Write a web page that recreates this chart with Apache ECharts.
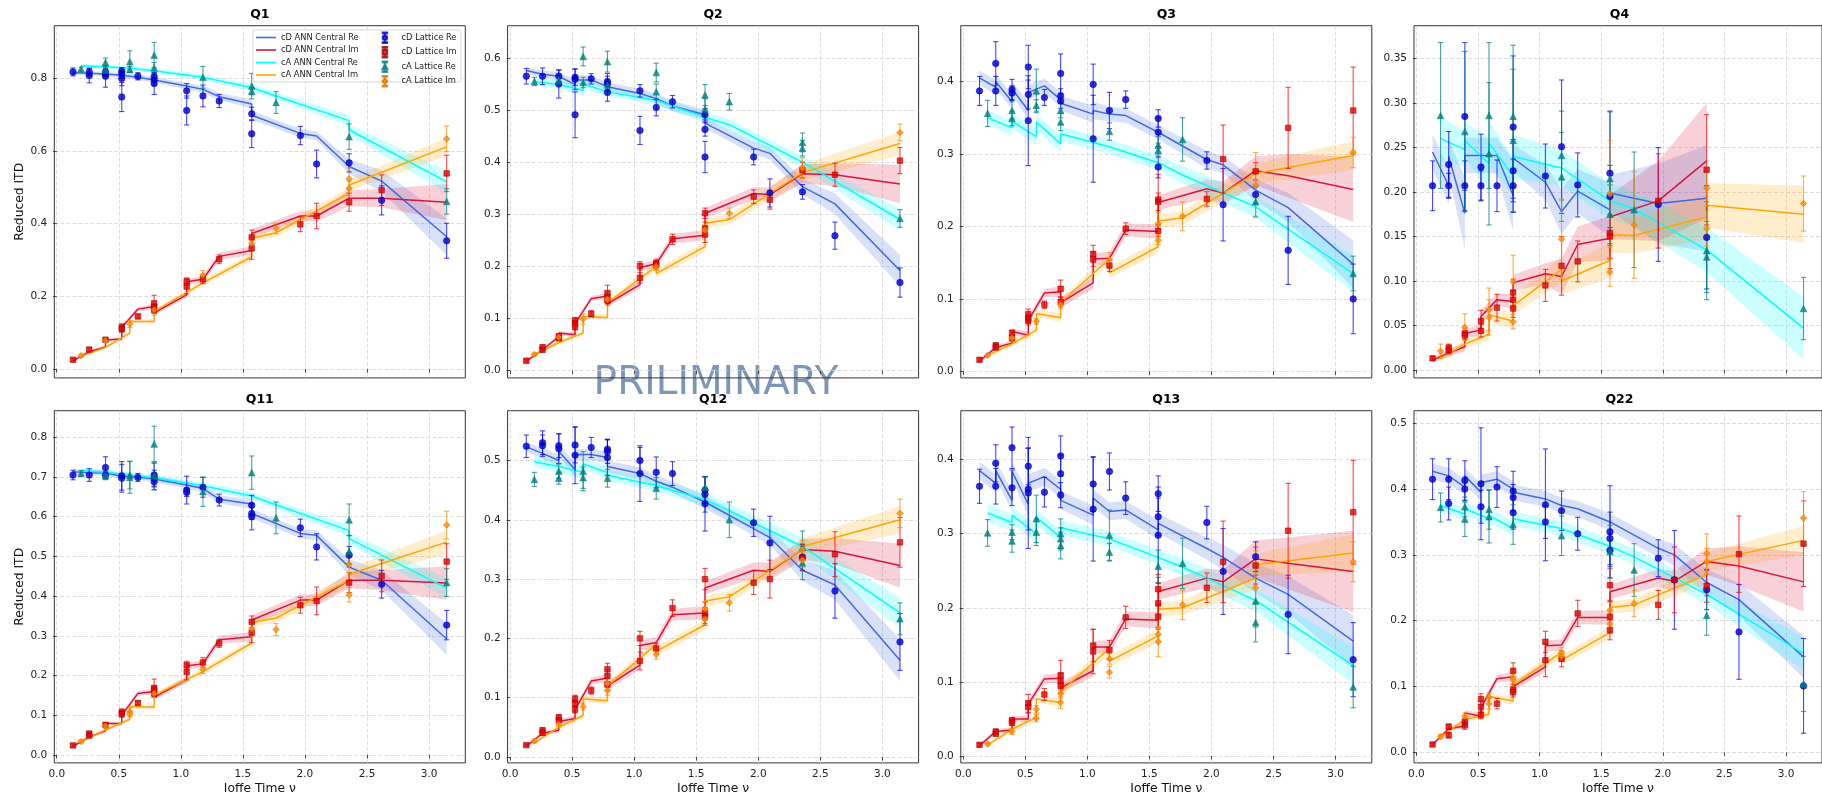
<!DOCTYPE html>
<html>
<head>
<meta charset="utf-8">
<title>Reduced ITD vs Ioffe time</title>
<script src="https://cdn.jsdelivr.net/npm/echarts@6/dist/echarts.min.js"></script>
<style>
  html, body { margin: 0; padding: 0; background: #ffffff; }
  #chart { width: 1822px; height: 796px; }
</style>
</head>
<body>
<div id="chart"></div>
<script>
// ---------------------------------------------------------------------------
// Data. Lattice arrays: [nu, value, error]. ANN arrays: [nu, central, band half-width].
// ---------------------------------------------------------------------------
const panelNames = ['Q1', 'Q2', 'Q3', 'Q4', 'Q11', 'Q12', 'Q13', 'Q22'];
const xRange = [-0.0196, 3.292];
const xTickValues = [0, 0.5, 1.0, 1.5, 2.0, 2.5, 3.0];
const yRanges = [[-0.024, 0.944], [-0.014, 0.662], [-0.009, 0.477], [-0.009, 0.387],
                 [-0.020, 0.867], [-0.010, 0.584], [-0.0094, 0.466], [-0.016, 0.519]];
const yTickValues = [
  [0, 0.2, 0.4, 0.6, 0.8],
  [0, 0.1, 0.2, 0.3, 0.4, 0.5, 0.6],
  [0, 0.1, 0.2, 0.3, 0.4],
  [0, 0.05, 0.10, 0.15, 0.20, 0.25, 0.30, 0.35],
  [0, 0.1, 0.2, 0.3, 0.4, 0.5, 0.6, 0.7, 0.8],
  [0, 0.1, 0.2, 0.3, 0.4, 0.5],
  [0, 0.1, 0.2, 0.3, 0.4],
  [0, 0.1, 0.2, 0.3, 0.4, 0.5]
];
const yTickDecimals = [1, 1, 1, 2, 1, 1, 1, 1];

// ----- Q1 -----
const Q1_cD_ann_Re = [[0.131,0.815,0.006],[0.262,0.813,0.006],[0.393,0.811,0.006],[0.524,0.808,0.007],[0.654,0.802,0.007],[0.785,0.795,0.008],[1.047,0.778,0.009],[1.178,0.769,0.01],[1.309,0.749,0.01],[1.571,0.729,0.012],[1.571,0.698,0.012],[1.963,0.648,0.012],[2.094,0.641,0.012],[2.356,0.557,0.02],[2.618,0.517,0.03],[3.142,0.364,0.05]];
const Q1_cD_ann_Im = [[0.131,0.023,0.003],[0.262,0.048,0.004],[0.393,0.061,0.004],[0.393,0.08,0.004],[0.524,0.083,0.005],[0.524,0.115,0.005],[0.654,0.165,0.006],[0.785,0.172,0.007],[0.785,0.155,0.007],[1.047,0.204,0.008],[1.047,0.24,0.008],[1.178,0.247,0.01],[1.309,0.31,0.01],[1.571,0.326,0.012],[1.571,0.373,0.012],[1.963,0.421,0.014],[2.094,0.421,0.016],[2.356,0.47,0.022],[2.618,0.47,0.025],[3.142,0.459,0.05]];
const Q1_cA_ann_Re = [[0.196,0.834,0.005],[0.393,0.831,0.006],[0.589,0.827,0.006],[0.785,0.82,0.007],[1.178,0.802,0.008],[1.571,0.774,0.01],[1.767,0.751,0.01],[2.356,0.683,0.015],[2.356,0.658,0.015],[3.142,0.515,0.03]];
const Q1_cA_ann_Im = [[0.196,0.035,0.003],[0.393,0.06,0.004],[0.589,0.099,0.005],[0.589,0.131,0.005],[0.785,0.131,0.006],[0.785,0.158,0.006],[1.178,0.237,0.008],[1.571,0.309,0.01],[1.571,0.36,0.01],[1.767,0.375,0.012],[2.356,0.483,0.015],[2.356,0.506,0.015],[3.142,0.611,0.025]];
const Q1_cD_lat_Re = [[0.131,0.817,0.011],[0.262,0.817,0.01],[0.262,0.807,0.02],[0.393,0.817,0.01],[0.393,0.811,0.012],[0.393,0.805,0.03],[0.524,0.819,0.01],[0.524,0.811,0.012],[0.524,0.799,0.02],[0.524,0.748,0.04],[0.654,0.805,0.01],[0.785,0.804,0.012],[0.785,0.795,0.015],[0.785,0.785,0.03],[1.047,0.765,0.02],[1.047,0.711,0.04],[1.178,0.751,0.03],[1.309,0.737,0.018],[1.571,0.702,0.018],[1.571,0.647,0.038],[1.963,0.642,0.025],[2.094,0.564,0.038],[2.356,0.567,0.025],[2.618,0.464,0.04],[3.142,0.353,0.048]];
const Q1_cD_lat_Im = [[0.131,0.026,0.004],[0.262,0.054,0.005],[0.393,0.081,0.005],[0.524,0.115,0.01],[0.524,0.11,0.008],[0.654,0.145,0.006],[0.785,0.181,0.022],[0.785,0.17,0.01],[0.785,0.163,0.01],[1.047,0.241,0.01],[1.047,0.227,0.02],[1.178,0.247,0.012],[1.309,0.302,0.012],[1.571,0.362,0.02],[1.571,0.332,0.03],[1.963,0.398,0.02],[2.094,0.421,0.035],[2.356,0.459,0.025],[2.618,0.492,0.042],[3.142,0.538,0.05]];
const Q1_cA_lat_Re = [[0.196,0.825,0.005],[0.393,0.843,0.012],[0.393,0.822,0.01],[0.589,0.845,0.03],[0.589,0.824,0.008],[0.785,0.863,0.035],[0.785,0.828,0.015],[1.178,0.802,0.03],[1.571,0.778,0.035],[1.571,0.764,0.01],[1.767,0.733,0.03],[2.356,0.639,0.035],[3.142,0.461,0.035]];
const Q1_cA_lat_Im = [[0.196,0.037,0.004],[0.393,0.078,0.005],[0.589,0.124,0.01],[0.785,0.163,0.015],[1.178,0.259,0.012],[1.571,0.346,0.02],[1.767,0.387,0.015],[2.356,0.523,0.03],[2.356,0.497,0.02],[3.142,0.633,0.035]];

// ----- Q2 -----
const Q2_cD_ann_Re = [[0.131,0.576,0.006],[0.262,0.569,0.007],[0.393,0.565,0.008],[0.524,0.549,0.01],[0.524,0.558,0.01],[0.654,0.558,0.008],[0.785,0.545,0.008],[1.047,0.532,0.009],[1.178,0.522,0.01],[1.309,0.508,0.01],[1.571,0.491,0.01],[1.571,0.475,0.01],[1.963,0.427,0.012],[2.094,0.417,0.012],[2.356,0.353,0.015],[2.618,0.32,0.02],[3.142,0.192,0.03]];
const Q2_cD_ann_Im = [[0.131,0.018,0.003],[0.262,0.04,0.003],[0.393,0.065,0.004],[0.393,0.072,0.004],[0.524,0.069,0.005],[0.524,0.09,0.005],[0.654,0.138,0.005],[0.785,0.143,0.006],[0.785,0.128,0.006],[1.047,0.165,0.007],[1.047,0.198,0.007],[1.178,0.205,0.008],[1.309,0.253,0.009],[1.571,0.26,0.01],[1.571,0.302,0.01],[1.963,0.34,0.012],[2.094,0.338,0.014],[2.356,0.378,0.018],[2.618,0.376,0.022],[3.142,0.358,0.037]];
const Q2_cA_ann_Re = [[0.196,0.555,0.008],[0.393,0.549,0.009],[0.589,0.538,0.01],[0.589,0.55,0.01],[0.785,0.535,0.008],[1.178,0.519,0.009],[1.571,0.486,0.01],[1.767,0.472,0.01],[2.356,0.4,0.012],[3.142,0.29,0.02]];
const Q2_cA_ann_Im = [[0.196,0.03,0.003],[0.393,0.054,0.004],[0.589,0.072,0.005],[0.589,0.104,0.005],[0.785,0.102,0.006],[0.785,0.13,0.006],[1.178,0.2,0.008],[1.178,0.186,0.008],[1.571,0.238,0.01],[1.571,0.283,0.01],[1.767,0.29,0.01],[2.356,0.38,0.015],[3.142,0.436,0.022]];
const Q2_cD_lat_Re = [[0.131,0.565,0.015],[0.262,0.565,0.016],[0.393,0.565,0.012],[0.393,0.55,0.027],[0.524,0.563,0.016],[0.524,0.559,0.02],[0.524,0.491,0.044],[0.654,0.56,0.01],[0.785,0.555,0.015],[0.785,0.55,0.015],[0.785,0.534,0.017],[1.047,0.537,0.012],[1.047,0.461,0.027],[1.178,0.505,0.016],[1.309,0.516,0.012],[1.571,0.491,0.012],[1.571,0.463,0.013],[1.571,0.41,0.03],[1.963,0.41,0.015],[2.094,0.341,0.027],[2.356,0.343,0.014],[2.618,0.259,0.026],[3.142,0.169,0.028]];
const Q2_cD_lat_Im = [[0.131,0.019,0.003],[0.262,0.045,0.004],[0.262,0.04,0.004],[0.393,0.066,0.004],[0.393,0.062,0.004],[0.524,0.096,0.006],[0.524,0.09,0.006],[0.524,0.084,0.006],[0.654,0.109,0.006],[0.785,0.149,0.015],[0.785,0.141,0.008],[0.785,0.134,0.008],[1.047,0.201,0.008],[1.047,0.178,0.01],[1.178,0.206,0.008],[1.178,0.203,0.008],[1.309,0.252,0.01],[1.571,0.302,0.01],[1.571,0.273,0.012],[1.571,0.261,0.015],[1.963,0.334,0.013],[2.094,0.328,0.018],[2.356,0.385,0.015],[2.618,0.376,0.022],[3.142,0.403,0.025]];
const Q2_cA_lat_Re = [[0.196,0.555,0.008],[0.393,0.558,0.01],[0.589,0.603,0.018],[0.589,0.553,0.01],[0.785,0.593,0.02],[0.785,0.548,0.01],[1.178,0.572,0.018],[1.178,0.535,0.015],[1.571,0.529,0.02],[1.571,0.502,0.02],[1.767,0.516,0.016],[2.356,0.438,0.018],[2.356,0.427,0.015],[3.142,0.292,0.017]];
const Q2_cA_lat_Im = [[0.196,0.031,0.003],[0.393,0.064,0.004],[0.589,0.099,0.01],[0.785,0.137,0.006],[1.178,0.2,0.008],[1.571,0.27,0.01],[1.767,0.302,0.01],[2.356,0.389,0.02],[3.142,0.457,0.016]];

// ----- Q3 -----
const Q3_cD_ann_Re = [[0.131,0.405,0.01],[0.262,0.392,0.01],[0.262,0.4,0.01],[0.393,0.372,0.01],[0.393,0.39,0.01],[0.524,0.36,0.012],[0.524,0.385,0.01],[0.654,0.394,0.01],[0.785,0.375,0.01],[0.785,0.37,0.01],[1.047,0.355,0.012],[1.047,0.36,0.012],[1.178,0.355,0.01],[1.309,0.353,0.01],[1.571,0.33,0.01],[1.963,0.292,0.012],[2.094,0.285,0.012],[2.356,0.25,0.015],[2.618,0.226,0.02],[3.142,0.148,0.033]];
const Q3_cD_ann_Im = [[0.131,0.014,0.003],[0.262,0.033,0.003],[0.393,0.039,0.004],[0.393,0.055,0.004],[0.524,0.05,0.005],[0.524,0.07,0.005],[0.654,0.108,0.006],[0.785,0.11,0.007],[0.785,0.095,0.007],[1.047,0.122,0.008],[1.047,0.155,0.008],[1.178,0.156,0.009],[1.309,0.195,0.009],[1.571,0.193,0.01],[1.571,0.233,0.01],[1.963,0.252,0.013],[2.094,0.246,0.016],[2.356,0.277,0.02],[2.618,0.27,0.03],[3.142,0.251,0.045]];
const Q3_cA_ann_Re = [[0.196,0.35,0.01],[0.393,0.336,0.01],[0.393,0.345,0.01],[0.589,0.324,0.012],[0.589,0.344,0.01],[0.785,0.314,0.012],[0.785,0.328,0.01],[1.178,0.31,0.01],[1.571,0.288,0.01],[1.767,0.271,0.012],[2.356,0.227,0.015],[3.142,0.135,0.025]];
const Q3_cA_ann_Im = [[0.196,0.022,0.003],[0.393,0.038,0.004],[0.589,0.057,0.005],[0.589,0.08,0.005],[0.785,0.074,0.006],[0.785,0.095,0.006],[1.178,0.155,0.008],[1.178,0.136,0.008],[1.571,0.172,0.009],[1.571,0.207,0.009],[1.767,0.212,0.01],[2.356,0.273,0.014],[3.142,0.298,0.02]];
const Q3_cD_lat_Re = [[0.131,0.387,0.02],[0.262,0.425,0.03],[0.262,0.387,0.02],[0.393,0.389,0.014],[0.393,0.384,0.01],[0.524,0.42,0.03],[0.524,0.382,0.02],[0.524,0.346,0.062],[0.654,0.378,0.011],[0.785,0.411,0.027],[0.785,0.38,0.01],[0.785,0.373,0.01],[1.047,0.396,0.028],[1.047,0.321,0.06],[1.178,0.36,0.025],[1.309,0.375,0.012],[1.571,0.349,0.012],[1.571,0.33,0.02],[1.571,0.282,0.015],[1.963,0.291,0.012],[2.094,0.23,0.05],[2.356,0.244,0.012],[2.618,0.167,0.047],[3.142,0.1,0.048]];
const Q3_cD_lat_Im = [[0.131,0.016,0.002],[0.262,0.036,0.003],[0.262,0.033,0.003],[0.393,0.053,0.004],[0.393,0.046,0.004],[0.524,0.079,0.007],[0.524,0.073,0.006],[0.524,0.07,0.006],[0.654,0.092,0.005],[0.785,0.114,0.012],[0.785,0.096,0.007],[1.047,0.162,0.012],[1.047,0.155,0.01],[1.178,0.146,0.008],[1.309,0.197,0.008],[1.571,0.237,0.035],[1.571,0.234,0.012],[1.571,0.194,0.008],[1.963,0.238,0.01],[2.094,0.293,0.047],[2.356,0.276,0.012],[2.618,0.336,0.056],[3.142,0.36,0.06]];
const Q3_cA_lat_Re = [[0.196,0.356,0.018],[0.393,0.36,0.012],[0.393,0.349,0.01],[0.589,0.387,0.03],[0.589,0.367,0.008],[0.785,0.36,0.01],[0.785,0.344,0.012],[1.178,0.331,0.012],[1.571,0.312,0.012],[1.571,0.305,0.01],[1.767,0.32,0.03],[2.356,0.234,0.02],[3.142,0.135,0.024]];
const Q3_cA_lat_Im = [[0.196,0.022,0.002],[0.393,0.046,0.004],[0.589,0.069,0.004],[0.785,0.092,0.006],[1.178,0.154,0.01],[1.571,0.204,0.015],[1.571,0.181,0.006],[1.767,0.214,0.02],[2.356,0.257,0.045],[3.142,0.302,0.021]];

// ----- Q4 -----
const Q4_cD_ann_Re = [[0.131,0.245,0.02],[0.262,0.207,0.02],[0.262,0.24,0.02],[0.393,0.176,0.04],[0.393,0.241,0.02],[0.524,0.241,0.02],[0.654,0.241,0.02],[0.785,0.196,0.04],[0.785,0.238,0.015],[1.047,0.211,0.02],[1.178,0.178,0.025],[1.309,0.201,0.025],[1.571,0.18,0.03],[1.571,0.199,0.02],[1.963,0.187,0.045],[2.356,0.193,0.06]];
const Q4_cD_ann_Im = [[0.131,0.011,0.003],[0.262,0.019,0.004],[0.393,0.026,0.005],[0.393,0.041,0.005],[0.524,0.045,0.006],[0.524,0.06,0.007],[0.654,0.079,0.007],[0.785,0.077,0.008],[0.785,0.098,0.009],[1.047,0.108,0.012],[1.178,0.105,0.02],[1.309,0.141,0.02],[1.571,0.148,0.025],[1.571,0.172,0.025],[1.963,0.19,0.045],[2.356,0.235,0.065]];
const Q4_cA_ann_Re = [[0.196,0.26,0.025],[0.393,0.248,0.02],[0.393,0.258,0.02],[0.589,0.232,0.03],[0.589,0.255,0.025],[0.785,0.218,0.02],[0.785,0.24,0.025],[1.178,0.227,0.02],[1.571,0.19,0.02],[1.767,0.181,0.02],[2.356,0.135,0.025],[3.142,0.047,0.035]];
const Q4_cA_ann_Im = [[0.196,0.013,0.003],[0.393,0.029,0.005],[0.589,0.04,0.007],[0.589,0.062,0.008],[0.785,0.055,0.009],[0.785,0.072,0.01],[1.178,0.113,0.015],[1.178,0.1,0.015],[1.571,0.123,0.02],[1.571,0.152,0.02],[1.767,0.151,0.02],[2.356,0.172,0.025],[2.356,0.185,0.025],[3.142,0.175,0.032]];
const Q4_cD_lat_Re = [[0.131,0.207,0.028],[0.262,0.231,0.037],[0.262,0.207,0.014],[0.393,0.285,0.083],[0.393,0.207,0.028],[0.524,0.228,0.037],[0.524,0.207,0.017],[0.654,0.207,0.029],[0.785,0.273,0.08],[0.785,0.224,0.035],[0.785,0.207,0.03],[1.047,0.218,0.036],[1.178,0.251,0.075],[1.309,0.208,0.036],[1.571,0.221,0.07],[1.571,0.195,0.035],[1.963,0.186,0.064],[2.356,0.149,0.058]];
const Q4_cD_lat_Im = [[0.131,0.013,0.002],[0.262,0.025,0.004],[0.262,0.022,0.004],[0.393,0.041,0.006],[0.393,0.039,0.005],[0.524,0.055,0.012],[0.524,0.044,0.007],[0.654,0.07,0.015],[0.785,0.087,0.015],[0.785,0.079,0.01],[0.785,0.069,0.01],[1.047,0.095,0.018],[1.178,0.117,0.033],[1.309,0.122,0.023],[1.571,0.154,0.04],[1.571,0.15,0.025],[1.963,0.19,0.053],[2.356,0.225,0.062]];
const Q4_cA_lat_Re = [[0.196,0.286,0.082],[0.393,0.268,0.09],[0.589,0.286,0.082],[0.589,0.243,0.08],[0.785,0.285,0.08],[0.785,0.258,0.08],[1.178,0.241,0.05],[1.178,0.217,0.05],[1.571,0.215,0.075],[1.571,0.175,0.033],[1.767,0.18,0.065],[2.356,0.134,0.055],[2.356,0.127,0.04],[3.142,0.069,0.035]];
const Q4_cA_lat_Im = [[0.196,0.021,0.008],[0.393,0.048,0.015],[0.589,0.068,0.024],[0.589,0.059,0.02],[0.785,0.099,0.03],[0.785,0.054,0.008],[1.178,0.147,0.045],[1.571,0.198,0.06],[1.571,0.11,0.016],[1.767,0.163,0.06],[2.356,0.204,0.02],[2.356,0.159,0.02],[3.142,0.187,0.031]];

// ----- Q11 -----
const Q11_cD_ann_Re = [[0.131,0.713,0.008],[0.262,0.711,0.007],[0.393,0.71,0.007],[0.524,0.702,0.007],[0.654,0.7,0.007],[0.785,0.695,0.008],[1.047,0.68,0.009],[1.178,0.671,0.01],[1.309,0.644,0.01],[1.571,0.632,0.012],[1.571,0.608,0.012],[1.963,0.558,0.012],[2.094,0.553,0.013],[2.356,0.473,0.02],[2.618,0.44,0.025],[3.142,0.292,0.04]];
const Q11_cD_ann_Im = [[0.131,0.022,0.003],[0.262,0.045,0.004],[0.393,0.061,0.004],[0.393,0.079,0.004],[0.524,0.079,0.005],[0.524,0.1,0.005],[0.654,0.155,0.006],[0.785,0.16,0.007],[0.785,0.145,0.007],[1.047,0.19,0.008],[1.047,0.224,0.008],[1.178,0.23,0.009],[1.309,0.29,0.01],[1.571,0.298,0.012],[1.571,0.34,0.012],[1.963,0.39,0.014],[2.094,0.39,0.015],[2.356,0.44,0.02],[2.618,0.44,0.025],[3.142,0.433,0.042]];
const Q11_cA_ann_Re = [[0.196,0.717,0.006],[0.393,0.712,0.007],[0.589,0.705,0.007],[0.785,0.698,0.008],[1.178,0.678,0.008],[1.571,0.652,0.01],[1.767,0.63,0.01],[2.356,0.565,0.015],[2.356,0.545,0.015],[3.142,0.42,0.025]];
const Q11_cA_ann_Im = [[0.196,0.033,0.003],[0.393,0.063,0.004],[0.589,0.09,0.005],[0.589,0.122,0.005],[0.785,0.12,0.006],[0.785,0.15,0.006],[1.178,0.21,0.008],[1.571,0.282,0.01],[1.571,0.333,0.01],[1.767,0.345,0.012],[2.356,0.44,0.015],[2.356,0.455,0.015],[3.142,0.536,0.03]];
const Q11_cD_lat_Re = [[0.131,0.705,0.012],[0.262,0.705,0.016],[0.393,0.724,0.027],[0.393,0.705,0.01],[0.524,0.703,0.036],[0.524,0.697,0.035],[0.654,0.699,0.01],[0.785,0.705,0.03],[0.785,0.697,0.02],[0.785,0.688,0.02],[1.047,0.667,0.035],[1.047,0.661,0.01],[1.178,0.674,0.025],[1.309,0.642,0.015],[1.571,0.629,0.025],[1.571,0.608,0.015],[1.571,0.6,0.033],[1.963,0.572,0.022],[2.094,0.524,0.033],[2.356,0.503,0.022],[2.618,0.43,0.035],[3.142,0.327,0.037]];
const Q11_cD_lat_Im = [[0.131,0.024,0.003],[0.262,0.054,0.004],[0.262,0.049,0.004],[0.393,0.076,0.005],[0.524,0.108,0.008],[0.524,0.103,0.008],[0.654,0.131,0.005],[0.785,0.169,0.022],[0.785,0.163,0.01],[0.785,0.155,0.01],[1.047,0.226,0.01],[1.047,0.209,0.02],[1.178,0.233,0.012],[1.309,0.281,0.01],[1.571,0.335,0.015],[1.571,0.308,0.025],[1.963,0.377,0.02],[2.094,0.388,0.035],[2.356,0.434,0.025],[2.618,0.451,0.04],[3.142,0.487,0.045]];
const Q11_cA_lat_Re = [[0.196,0.709,0.007],[0.393,0.703,0.01],[0.589,0.705,0.035],[0.589,0.699,0.04],[0.785,0.783,0.045],[0.785,0.703,0.035],[1.178,0.663,0.037],[1.571,0.711,0.042],[1.767,0.597,0.04],[2.356,0.592,0.04],[2.356,0.513,0.04],[3.142,0.434,0.035]];
const Q11_cA_lat_Im = [[0.196,0.034,0.003],[0.393,0.072,0.005],[0.589,0.108,0.01],[0.589,0.103,0.008],[0.785,0.155,0.01],[1.178,0.215,0.01],[1.571,0.318,0.018],[1.767,0.316,0.015],[2.356,0.48,0.02],[2.356,0.403,0.018],[3.142,0.579,0.035]];

// ----- Q12 -----
const Q12_cD_ann_Re = [[0.131,0.523,0.008],[0.262,0.512,0.009],[0.393,0.5,0.01],[0.393,0.515,0.01],[0.524,0.485,0.012],[0.524,0.51,0.01],[0.654,0.51,0.009],[0.785,0.505,0.01],[0.785,0.49,0.01],[1.047,0.478,0.01],[1.178,0.465,0.01],[1.309,0.455,0.01],[1.571,0.43,0.011],[1.963,0.385,0.012],[2.094,0.37,0.013],[2.356,0.315,0.018],[2.618,0.29,0.025],[3.142,0.163,0.035]];
const Q12_cD_ann_Im = [[0.131,0.018,0.003],[0.262,0.04,0.003],[0.393,0.045,0.004],[0.393,0.06,0.004],[0.524,0.065,0.005],[0.524,0.08,0.005],[0.654,0.128,0.006],[0.785,0.133,0.007],[0.785,0.12,0.007],[1.047,0.155,0.008],[1.047,0.188,0.008],[1.178,0.193,0.009],[1.309,0.24,0.01],[1.571,0.243,0.011],[1.571,0.285,0.011],[1.963,0.315,0.013],[2.094,0.313,0.015],[2.356,0.35,0.018],[2.618,0.347,0.022],[3.142,0.323,0.037]];
const Q12_cA_ann_Re = [[0.196,0.498,0.01],[0.393,0.49,0.01],[0.589,0.48,0.011],[0.589,0.494,0.01],[0.785,0.48,0.01],[0.785,0.475,0.01],[1.178,0.458,0.01],[1.571,0.434,0.011],[1.767,0.415,0.012],[2.356,0.355,0.015],[3.142,0.243,0.025]];
const Q12_cA_ann_Im = [[0.196,0.024,0.003],[0.393,0.05,0.004],[0.589,0.07,0.005],[0.589,0.098,0.005],[0.785,0.095,0.006],[0.785,0.12,0.006],[1.178,0.19,0.008],[1.178,0.178,0.008],[1.571,0.223,0.009],[1.571,0.263,0.009],[1.767,0.27,0.01],[2.356,0.35,0.014],[2.356,0.355,0.014],[3.142,0.4,0.023]];
const Q12_cD_lat_Re = [[0.131,0.524,0.019],[0.262,0.53,0.02],[0.262,0.525,0.018],[0.393,0.525,0.02],[0.393,0.52,0.025],[0.524,0.526,0.03],[0.524,0.509,0.048],[0.654,0.522,0.017],[0.785,0.519,0.017],[0.785,0.515,0.02],[0.785,0.505,0.03],[1.047,0.5,0.022],[1.047,0.478,0.047],[1.178,0.48,0.026],[1.309,0.478,0.02],[1.571,0.45,0.022],[1.571,0.443,0.03],[1.571,0.427,0.046],[1.963,0.395,0.023],[2.094,0.361,0.045],[2.356,0.337,0.022],[2.618,0.28,0.046],[3.142,0.194,0.048]];
const Q12_cD_lat_Im = [[0.131,0.02,0.002],[0.262,0.045,0.004],[0.262,0.041,0.004],[0.393,0.067,0.004],[0.393,0.062,0.004],[0.524,0.098,0.006],[0.524,0.09,0.006],[0.524,0.08,0.006],[0.654,0.112,0.006],[0.785,0.148,0.01],[0.785,0.137,0.01],[0.785,0.122,0.01],[1.047,0.2,0.012],[1.047,0.162,0.015],[1.178,0.183,0.008],[1.309,0.251,0.014],[1.571,0.3,0.018],[1.571,0.243,0.018],[1.571,0.237,0.015],[1.963,0.294,0.02],[2.094,0.3,0.032],[2.356,0.336,0.022],[2.618,0.342,0.038],[3.142,0.362,0.042]];
const Q12_cA_lat_Re = [[0.196,0.468,0.012],[0.393,0.482,0.012],[0.393,0.47,0.01],[0.589,0.482,0.033],[0.589,0.471,0.018],[0.785,0.47,0.015],[1.178,0.453,0.018],[1.571,0.455,0.018],[1.767,0.4,0.03],[2.356,0.353,0.028],[2.356,0.327,0.028],[3.142,0.233,0.027]];
const Q12_cA_lat_Im = [[0.196,0.027,0.003],[0.393,0.055,0.004],[0.589,0.085,0.006],[0.785,0.124,0.01],[0.785,0.112,0.008],[1.178,0.173,0.008],[1.571,0.25,0.012],[1.571,0.232,0.01],[1.767,0.26,0.014],[2.356,0.35,0.015],[2.356,0.332,0.012],[3.142,0.411,0.024]];

// ----- Q13 -----
const Q13_cD_ann_Re = [[0.131,0.385,0.012],[0.262,0.368,0.012],[0.262,0.385,0.012],[0.393,0.345,0.014],[0.393,0.384,0.012],[0.524,0.34,0.015],[0.524,0.368,0.012],[0.654,0.377,0.012],[0.785,0.36,0.012],[0.785,0.345,0.012],[1.047,0.325,0.013],[1.047,0.348,0.012],[1.178,0.33,0.012],[1.309,0.332,0.012],[1.571,0.305,0.013],[1.571,0.314,0.013],[1.963,0.28,0.015],[2.094,0.268,0.017],[2.356,0.24,0.02],[2.618,0.218,0.025],[3.142,0.155,0.035]];
const Q13_cD_ann_Im = [[0.131,0.014,0.002],[0.262,0.033,0.003],[0.393,0.035,0.004],[0.393,0.05,0.004],[0.524,0.05,0.005],[0.524,0.07,0.005],[0.654,0.104,0.006],[0.785,0.105,0.007],[0.785,0.092,0.007],[1.047,0.115,0.008],[1.047,0.147,0.008],[1.178,0.147,0.009],[1.309,0.185,0.01],[1.571,0.183,0.011],[1.571,0.222,0.011],[1.963,0.24,0.013],[2.094,0.235,0.016],[2.356,0.266,0.025],[2.618,0.26,0.035],[3.142,0.249,0.055]];
const Q13_cA_ann_Re = [[0.196,0.328,0.012],[0.393,0.315,0.011],[0.393,0.325,0.011],[0.589,0.3,0.012],[0.589,0.322,0.011],[0.785,0.295,0.01],[0.785,0.308,0.01],[1.178,0.293,0.01],[1.571,0.268,0.01],[1.767,0.255,0.012],[2.356,0.21,0.015],[3.142,0.122,0.025]];
const Q13_cA_ann_Im = [[0.196,0.015,0.002],[0.393,0.036,0.004],[0.589,0.052,0.005],[0.589,0.077,0.005],[0.785,0.072,0.006],[0.785,0.087,0.006],[1.178,0.145,0.008],[1.178,0.128,0.008],[1.571,0.162,0.009],[1.571,0.198,0.009],[1.767,0.2,0.01],[2.356,0.24,0.015],[2.356,0.258,0.015],[3.142,0.274,0.025]];
const Q13_cD_lat_Re = [[0.131,0.364,0.023],[0.262,0.395,0.025],[0.262,0.364,0.024],[0.393,0.416,0.028],[0.393,0.362,0.024],[0.524,0.391,0.025],[0.524,0.36,0.055],[0.524,0.355,0.075],[0.654,0.356,0.02],[0.785,0.405,0.027],[0.785,0.381,0.025],[0.785,0.352,0.017],[1.047,0.367,0.037],[1.047,0.333,0.07],[1.178,0.384,0.025],[1.309,0.348,0.022],[1.571,0.354,0.024],[1.571,0.323,0.025],[1.571,0.298,0.065],[1.963,0.315,0.022],[2.094,0.249,0.058],[2.356,0.269,0.02],[2.618,0.191,0.053],[3.142,0.13,0.05]];
const Q13_cD_lat_Im = [[0.131,0.015,0.002],[0.262,0.033,0.003],[0.262,0.03,0.003],[0.393,0.048,0.004],[0.393,0.045,0.004],[0.524,0.071,0.012],[0.524,0.066,0.008],[0.654,0.083,0.008],[0.785,0.109,0.02],[0.785,0.101,0.01],[0.785,0.095,0.01],[1.047,0.149,0.022],[1.047,0.141,0.03],[1.178,0.143,0.013],[1.309,0.187,0.015],[1.571,0.225,0.02],[1.571,0.206,0.035],[1.571,0.188,0.015],[1.963,0.227,0.02],[2.094,0.262,0.055],[2.356,0.257,0.025],[2.618,0.304,0.064],[3.142,0.329,0.07]];
const Q13_cA_lat_Re = [[0.196,0.301,0.018],[0.393,0.302,0.01],[0.393,0.29,0.015],[0.589,0.32,0.032],[0.589,0.302,0.018],[0.785,0.3,0.02],[0.785,0.293,0.015],[0.785,0.284,0.018],[1.178,0.298,0.034],[1.178,0.275,0.012],[1.571,0.256,0.022],[1.767,0.26,0.034],[2.356,0.209,0.035],[2.356,0.18,0.026],[3.142,0.093,0.028]];
const Q13_cA_lat_Im = [[0.196,0.016,0.002],[0.393,0.033,0.004],[0.589,0.063,0.005],[0.589,0.051,0.005],[0.785,0.084,0.006],[0.785,0.072,0.008],[1.178,0.131,0.007],[1.178,0.113,0.008],[1.571,0.164,0.01],[1.571,0.154,0.02],[1.767,0.204,0.02],[2.356,0.227,0.05],[3.142,0.262,0.027]];

// ----- Q22 -----
const Q22_cD_ann_Re = [[0.131,0.427,0.012],[0.262,0.42,0.012],[0.393,0.403,0.012],[0.393,0.42,0.012],[0.524,0.395,0.013],[0.524,0.41,0.012],[0.654,0.415,0.012],[0.785,0.4,0.012],[0.785,0.395,0.012],[1.047,0.385,0.012],[1.178,0.375,0.012],[1.309,0.37,0.012],[1.571,0.35,0.013],[1.963,0.31,0.014],[2.094,0.3,0.016],[2.356,0.258,0.02],[2.618,0.232,0.025],[3.142,0.145,0.032]];
const Q22_cD_ann_Im = [[0.131,0.012,0.002],[0.262,0.036,0.003],[0.393,0.04,0.004],[0.393,0.06,0.004],[0.524,0.055,0.005],[0.524,0.068,0.005],[0.654,0.112,0.006],[0.785,0.115,0.007],[0.785,0.1,0.007],[1.047,0.13,0.008],[1.047,0.162,0.008],[1.178,0.163,0.009],[1.309,0.205,0.01],[1.571,0.205,0.011],[1.571,0.244,0.011],[1.963,0.265,0.013],[2.094,0.26,0.016],[2.356,0.29,0.02],[2.618,0.283,0.03],[3.142,0.259,0.045]];
const Q22_cA_ann_Re = [[0.196,0.375,0.01],[0.393,0.362,0.01],[0.393,0.37,0.01],[0.589,0.355,0.011],[0.589,0.36,0.011],[0.785,0.34,0.011],[0.785,0.355,0.011],[1.178,0.34,0.011],[1.571,0.313,0.012],[1.767,0.297,0.012],[2.356,0.24,0.015],[3.142,0.15,0.025]];
const Q22_cA_ann_Im = [[0.196,0.023,0.003],[0.393,0.05,0.004],[0.589,0.058,0.005],[0.589,0.085,0.005],[0.785,0.078,0.006],[0.785,0.102,0.006],[1.178,0.152,0.008],[1.178,0.14,0.008],[1.571,0.182,0.009],[1.571,0.22,0.009],[1.767,0.224,0.01],[2.356,0.27,0.014],[2.356,0.29,0.014],[3.142,0.322,0.022]];
const Q22_cD_lat_Re = [[0.131,0.415,0.031],[0.262,0.415,0.031],[0.262,0.378,0.025],[0.393,0.413,0.03],[0.393,0.4,0.018],[0.524,0.408,0.085],[0.524,0.373,0.025],[0.654,0.403,0.031],[0.785,0.397,0.03],[0.785,0.387,0.02],[0.785,0.364,0.025],[1.047,0.376,0.085],[1.047,0.35,0.025],[1.178,0.367,0.03],[1.309,0.332,0.025],[1.571,0.335,0.07],[1.571,0.325,0.04],[1.571,0.307,0.025],[1.963,0.295,0.028],[2.094,0.262,0.075],[2.356,0.247,0.03],[2.618,0.183,0.072],[3.142,0.101,0.072]];
const Q22_cD_lat_Im = [[0.131,0.012,0.002],[0.262,0.039,0.004],[0.262,0.026,0.004],[0.393,0.046,0.006],[0.393,0.041,0.006],[0.524,0.081,0.008],[0.524,0.069,0.008],[0.524,0.057,0.006],[0.654,0.074,0.008],[0.785,0.124,0.012],[0.785,0.095,0.008],[0.785,0.092,0.008],[1.047,0.168,0.016],[1.047,0.14,0.025],[1.178,0.142,0.012],[1.309,0.211,0.02],[1.571,0.254,0.025],[1.571,0.206,0.025],[1.571,0.186,0.015],[1.963,0.224,0.022],[2.094,0.262,0.05],[2.356,0.253,0.025],[2.618,0.301,0.058],[3.142,0.317,0.065]];
const Q22_cA_lat_Re = [[0.196,0.372,0.022],[0.393,0.373,0.015],[0.393,0.354,0.026],[0.589,0.369,0.03],[0.589,0.358,0.04],[0.785,0.346,0.03],[1.178,0.329,0.03],[1.571,0.305,0.04],[1.767,0.277,0.04],[2.356,0.208,0.03],[3.142,0.104,0.042]];
const Q22_cA_lat_Im = [[0.196,0.024,0.003],[0.393,0.055,0.005],[0.589,0.084,0.006],[0.589,0.074,0.008],[0.785,0.115,0.01],[0.785,0.11,0.01],[1.178,0.151,0.008],[1.178,0.146,0.008],[1.571,0.216,0.012],[1.571,0.195,0.012],[1.767,0.226,0.02],[2.356,0.302,0.03],[2.356,0.29,0.02],[3.142,0.356,0.04]];

// ---------------------------------------------------------------------------
// Per-panel lookup built from the arrays above
// ---------------------------------------------------------------------------
const panelAnn = [
  [Q1_cD_ann_Re, Q1_cD_ann_Im, Q1_cA_ann_Re, Q1_cA_ann_Im],
  [Q2_cD_ann_Re, Q2_cD_ann_Im, Q2_cA_ann_Re, Q2_cA_ann_Im],
  [Q3_cD_ann_Re, Q3_cD_ann_Im, Q3_cA_ann_Re, Q3_cA_ann_Im],
  [Q4_cD_ann_Re, Q4_cD_ann_Im, Q4_cA_ann_Re, Q4_cA_ann_Im],
  [Q11_cD_ann_Re, Q11_cD_ann_Im, Q11_cA_ann_Re, Q11_cA_ann_Im],
  [Q12_cD_ann_Re, Q12_cD_ann_Im, Q12_cA_ann_Re, Q12_cA_ann_Im],
  [Q13_cD_ann_Re, Q13_cD_ann_Im, Q13_cA_ann_Re, Q13_cA_ann_Im],
  [Q22_cD_ann_Re, Q22_cD_ann_Im, Q22_cA_ann_Re, Q22_cA_ann_Im]
];
const panelLat = [
  [Q1_cD_lat_Re, Q1_cD_lat_Im, Q1_cA_lat_Re, Q1_cA_lat_Im],
  [Q2_cD_lat_Re, Q2_cD_lat_Im, Q2_cA_lat_Re, Q2_cA_lat_Im],
  [Q3_cD_lat_Re, Q3_cD_lat_Im, Q3_cA_lat_Re, Q3_cA_lat_Im],
  [Q4_cD_lat_Re, Q4_cD_lat_Im, Q4_cA_lat_Re, Q4_cA_lat_Im],
  [Q11_cD_lat_Re, Q11_cD_lat_Im, Q11_cA_lat_Re, Q11_cA_lat_Im],
  [Q12_cD_lat_Re, Q12_cD_lat_Im, Q12_cA_lat_Re, Q12_cA_lat_Im],
  [Q13_cD_lat_Re, Q13_cD_lat_Im, Q13_cA_lat_Re, Q13_cA_lat_Im],
  [Q22_cD_lat_Re, Q22_cD_lat_Im, Q22_cA_lat_Re, Q22_cA_lat_Im]
];

// ---------------------------------------------------------------------------
// Styling
// ---------------------------------------------------------------------------
const FONT = 'DejaVu Sans';
const annStyles = [
  { name: 'cD ANN Central Re', color: '#4169E1' },
  { name: 'cD ANN Central Im', color: '#DC143C' },
  { name: 'cA ANN Central Re', color: '#00FFFF' },
  { name: 'cA ANN Central Im', color: '#FFA500' }
];
const lineIcon = 'path://M0,0H20V1.6H0Z';
const latStyles = [
  { name: 'cD Lattice Re', color: '#0000CD', edge: '#0000CD', bar: 'rgba(0,0,255,0.72)', symbol: 'circle', size: 6.5,
    icon: 'path://M2,0H8V1H5.5V4H4.5V1H2Z M2,13H4.5V10H5.5V13H8V14H2Z M8,7A3,3,0,1,1,2,7A3,3,0,1,1,8,7Z' },
  { name: 'cD Lattice Im', color: '#EE0000', edge: '#990000', bar: 'rgba(255,0,0,0.72)', symbol: 'rect', size: 5.5,
    icon: 'path://M2,0H8V1H5.5V4H4.5V1H2Z M2,13H4.5V10H5.5V13H8V14H2Z M2,4H8V10H2Z' },
  { name: 'cA Lattice Re', color: '#008080', edge: '#008080', bar: 'rgba(0,128,128,0.72)', symbol: 'triangle', size: 6.5,
    icon: 'path://M2,0H8V1H5.5V4H4.5V1H2Z M2,13H4.5V10H5.5V13H8V14H2Z M5,4L8.2,10H1.8Z' },
  { name: 'cA Lattice Im', color: '#FF8C00', edge: '#E07000', bar: 'rgba(255,140,0,0.72)', symbol: 'diamond', size: 6.5,
    icon: 'path://M2,0H8V1H5.5V3.5H4.5V1H2Z M2,13H4.5V10.5H5.5V13H8V14H2Z M5,3.2L8.2,7L5,10.8L1.8,7Z' }
];

// Panel frames (pixels)
const colLeft = [54.3, 507.6, 960.8, 1414];
const rowTop = [25.7, 410.7];
const panelW = 411, panelH = 352.2;

function bandRenderer(pts, color) {
  const fill = echarts.color.modifyAlpha(color, 0.2);
  return function (params, api) {
    if (params.dataIndex !== 0) return null;
    const upper = pts.map(p => api.coord([p[0], p[1] + p[2]]));
    const lower = pts.slice().reverse().map(p => api.coord([p[0], p[1] - p[2]]));
    return { type: 'polygon', shape: { points: upper.concat(lower) }, style: { fill: fill }, silent: true };
  };
}

function errRenderer(color) {
  return function (params, api) {
    const x = api.value(0), y = api.value(1), e = api.value(2);
    const hi = api.coord([x, y + e]);
    const lo = api.coord([x, y - e]);
    const c = 2.6;
    const st = () => ({ stroke: color, lineWidth: 1.1 });
    return {
      type: 'group', silent: true,
      children: [
        { type: 'line', shape: { x1: hi[0], y1: hi[1], x2: lo[0], y2: lo[1] }, style: st() },
        { type: 'line', shape: { x1: hi[0] - c, y1: hi[1], x2: hi[0] + c, y2: hi[1] }, style: st() },
        { type: 'line', shape: { x1: lo[0] - c, y1: lo[1], x2: lo[0] + c, y2: lo[1] }, style: st() }
      ]
    };
  };
}

const grids = [], xAxes = [], yAxes = [], series = [], graphics = [];
const splitStyle = { type: [4, 2], color: '#d6d6d6', width: 0.8 };
const tickStyle = { color: '#333', width: 0.9 };

panelNames.forEach((pname, i) => {
  const col = i % 4, row = Math.floor(i / 4);
  const left = colLeft[col], top = rowTop[row];
  grids.push({ left: left, top: top, width: panelW, height: panelH, show: true,
               borderColor: '#333', borderWidth: 1, backgroundColor: 'transparent', containLabel: false });

  xAxes.push({
    gridIndex: i, type: 'value', min: xRange[0], max: xRange[1],
    axisLine: { show: false },
    axisTick: { show: true, length: 3.5, lineStyle: tickStyle, customValues: xTickValues },
    axisLabel: { show: row === 1, customValues: xTickValues, formatter: v => v.toFixed(1),
                 fontFamily: FONT, fontSize: 10.5, color: '#222', margin: 6 },
    splitLine: { show: true, lineStyle: splitStyle },
    name: row === 1 ? 'Ioffe Time \u03BD' : '', nameLocation: 'middle', nameGap: 20,
    nameTextStyle: { fontFamily: FONT, fontSize: 12.3, color: '#111' }
  });

  const dec = yTickDecimals[i];
  yAxes.push({
    gridIndex: i, type: 'value', min: yRanges[i][0], max: yRanges[i][1],
    axisLine: { show: false },
    axisTick: { show: true, length: 3.5, lineStyle: tickStyle, customValues: yTickValues[i] },
    axisLabel: { show: true, customValues: yTickValues[i], formatter: v => v.toFixed(dec),
                 fontFamily: FONT, fontSize: 10.5, color: '#222', margin: 7 },
    splitLine: { show: true, lineStyle: splitStyle },
    name: col === 0 ? 'Reduced ITD' : '', nameLocation: 'middle', nameGap: 28, nameRotate: 90,
    nameTextStyle: { fontFamily: FONT, fontSize: 12.3, color: '#111' }
  });

  // Panel title
  graphics.push({
    type: 'text', z: 100, silent: true,
    x: left + panelW / 2, y: row === 0 ? 15 : 399.5,
    style: { text: pname, fill: '#000', font: 'bold 12.5px "DejaVu Sans"', align: 'center', verticalAlign: 'middle' }
  });

  // ANN central values with uncertainty bands
  panelAnn[i].forEach((arr, k) => {
    const s = annStyles[k];
    series.push({
      type: 'custom', name: s.name + ' band', coordinateSystem: 'cartesian2d',
      xAxisIndex: i, yAxisIndex: i, z: 1, silent: true,
      data: arr, encode: { x: 0, y: 1 }, renderItem: bandRenderer(arr, s.color)
    });
    series.push({
      type: 'line', name: s.name, xAxisIndex: i, yAxisIndex: i, z: 2,
      data: arr.map(p => [p[0], p[1]]), symbol: 'none', showSymbol: false,
      color: s.color, itemStyle: { color: s.color }, lineStyle: { color: s.color, width: 1.5 }, silent: true
    });
  });

  // Lattice points with error bars
  panelLat[i].forEach((arr, k) => {
    const s = latStyles[k];
    series.push({
      type: 'custom', name: s.name + ' error', coordinateSystem: 'cartesian2d',
      xAxisIndex: i, yAxisIndex: i, z: 3, silent: true,
      data: arr, encode: { x: 0, y: 1 }, renderItem: errRenderer(s.bar)
    });
    series.push({
      type: 'scatter', name: s.name, xAxisIndex: i, yAxisIndex: i, z: 4,
      data: arr.map(p => [p[0], p[1]]), symbol: s.symbol, symbolSize: s.size,
      color: s.color, itemStyle: { color: s.color, borderColor: s.edge, borderWidth: 0.7 }, silent: true
    });
  });
});

// Watermark
graphics.push({
  type: 'text', z: -10, silent: true, x: 716, y: 384,
  style: { text: 'PRILIMINARY', fill: '#7d95b7', font: '39px "DejaVu Sans"', align: 'center', verticalAlign: 'middle' }
});
// Legend frame in the first panel
graphics.push({
  type: 'rect', z: 40, silent: true,
  shape: { x: 253, y: 30, width: 208, height: 52, r: 2 },
  style: { fill: 'rgba(255,255,255,0.85)', stroke: '#cccccc', lineWidth: 0.8 }
});

const option = {
  animation: false,
  backgroundColor: '#ffffff',
  textStyle: { fontFamily: FONT },
  grid: grids,
  xAxis: xAxes,
  yAxis: yAxes,
  graphic: graphics,
  legend: [
    {
      data: annStyles.map(s => ({ name: s.name, icon: lineIcon })), orient: 'vertical', left: 256, top: 33.5, padding: 0,
      itemWidth: 20, itemHeight: 8, itemGap: 4.5, z: 50, selectedMode: false, symbolKeepAspect: true,
      textStyle: { fontFamily: FONT, fontSize: 8.3, color: '#222', lineHeight: 8 }
    },
    {
      data: latStyles.map(s => ({ name: s.name, icon: s.icon })), orient: 'vertical', left: 381.5, top: 31.5, padding: 0,
      itemWidth: 7.5, itemHeight: 10.5, itemGap: 2, z: 50, selectedMode: false,
      formatter: name => '   ' + name,
      textStyle: { fontFamily: FONT, fontSize: 8.3, color: '#222', lineHeight: 8 }
    }
  ],
  series: series
};

const chart = echarts.init(document.getElementById('chart'), null, { renderer: 'canvas' });
chart.setOption(option);
</script>
</body>
</html>
